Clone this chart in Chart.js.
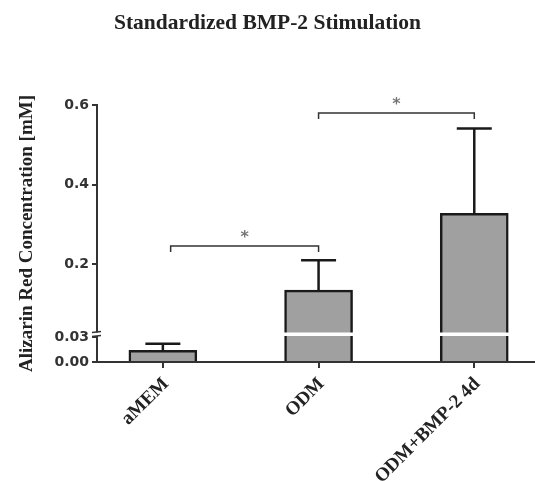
<!DOCTYPE html>
<html>
  <head>
    <meta charset="utf-8" />
    <title>Standardized BMP-2 Stimulation</title>
    <script src="https://cdn.jsdelivr.net/npm/chart.js"></script>
    <style>
      html, body { margin: 0; padding: 0; background: #fff; }
      #wrap { position: relative; width: 535px; height: 481px; }
    </style>
  </head>
  <body>
    <div id="wrap"><canvas id="bmpChart"></canvas></div>
    <script type="text/javascript">
        // values
        var categories = ['aMEM', 'ODM', 'ODM+BMP-2 4d']
        var means = [0.014, 0.135, 0.328]
        var sds = [0.008, 0.075, 0.213]
        var yTicks = [0, 0.03, 0.2, 0.4, 0.6]
        var yTickLabels = ['0.00', '0.03', '0.2', '0.4', '0.6']
        var axisBreak = 0.03
        // significance brackets: from / to (category index) and height (mM)
        var bracketFrom = [0.05, 1]
        var bracketTo = [1, 2]
        var bracketY = [0.246, 0.58]
        var bracketText = ['*', '*']

        // look of the broken axis
        var lowerShare = 25 / 257
        var breakGap = 5

        // linear scale with a gap: 0..axisBreak at the bottom, axisBreak..max above
        class BrokenScale extends Chart.LinearScale {
            getPixelForValue(value) {
                var h = this.bottom - this.top
                var lowH = h * lowerShare
                if (value <= axisBreak) {
                    return this.bottom - (value - this.min) / (axisBreak - this.min) * lowH
                }
                var upH = h - lowH - breakGap
                return this.bottom - lowH - breakGap - (value - axisBreak) / (this.max - axisBreak) * upH
            }
            getValueForPixel(pixel) {
                var h = this.bottom - this.top
                var lowH = h * lowerShare
                var upH = h - lowH - breakGap
                if (pixel >= this.bottom - lowH) {
                    return this.min + (this.bottom - pixel) / lowH * (axisBreak - this.min)
                }
                return axisBreak + (this.bottom - lowH - breakGap - pixel) / upH * (this.max - axisBreak)
            }
        }
        BrokenScale.id = 'broken'
        BrokenScale.defaults = Chart.LinearScale.defaults
        Chart.register(BrokenScale)

        var extras = {
            id: 'extras',
            afterDatasetsDraw: function(chart) {
                var ctx = chart.ctx
                var x = chart.scales.x
                var y = chart.scales.y
                var area = chart.chartArea
                ctx.save()

                // error bars (upper half only)
                ctx.strokeStyle = '#1a1a1a'
                ctx.lineWidth = 2.5
                for (var i = 0; i < categories.length; i++) {
                    var cx = x.getPixelForValue(i)
                    var y0 = y.getPixelForValue(means[i])
                    var y1 = y.getPixelForValue(means[i] + sds[i])
                    ctx.beginPath()
                    ctx.moveTo(cx, y0)
                    ctx.lineTo(cx, y1)
                    ctx.moveTo(cx - 17.5, y1)
                    ctx.lineTo(cx + 17.5, y1)
                    ctx.stroke()
                }

                // white gap across the plot at the axis break
                var yUp = y.getPixelForValue(axisBreak + 1e-9)
                var yLow = y.getPixelForValue(axisBreak)
                ctx.fillStyle = '#ffffff'
                ctx.fillRect(area.left - 1.5, yUp + 0.5, area.right - area.left + 2, yLow - yUp - 1.5)

                // break marks on the y axis
                ctx.strokeStyle = '#333'
                ctx.lineWidth = 1.5
                ctx.beginPath()
                ctx.moveTo(area.left - 5, yUp + 0.5)
                ctx.lineTo(area.left + 4, yUp - 0.5)
                ctx.moveTo(area.left - 5, yLow - 0.5)
                ctx.lineTo(area.left + 4, yLow - 1.5)
                ctx.stroke()

                // significance brackets
                ctx.strokeStyle = '#333'
                ctx.lineWidth = 1.5
                ctx.fillStyle = '#777'
                ctx.font = 'bold 16px "DejaVu Sans"'
                ctx.textAlign = 'center'
                ctx.textBaseline = 'middle'
                for (var j = 0; j < bracketY.length; j++) {
                    var xa = x.getPixelForValue(bracketFrom[j])
                    var xb = x.getPixelForValue(bracketTo[j])
                    var yb = y.getPixelForValue(bracketY[j])
                    ctx.beginPath()
                    ctx.moveTo(xa, yb + 6)
                    ctx.lineTo(xa, yb)
                    ctx.lineTo(xb, yb)
                    ctx.lineTo(xb, yb + 6)
                    ctx.stroke()
                    ctx.fillText(bracketText[j], (xa + xb) / 2, yb - 8)
                }
                ctx.restore()
            }
        }

        var ctx = document.getElementById('bmpChart').getContext('2d')
        new Chart(ctx, {
            type: 'bar',
            data: {
                datasets: [{
                    data: categories.map(function(c, i) { return { x: i, y: means[i] } }),
                    backgroundColor: '#a0a0a0',
                    borderColor: '#1a1a1a',
                    borderWidth: 2.5,
                    borderSkipped: 'start',
                    barThickness: 68,
                }]
            },
            options: {
                responsive: true,
                maintainAspectRatio: false,
                animation: false,
                layout: { padding: 0 },
                plugins: {
                    legend: { display: false },
                    tooltip: { enabled: false },
                    title: {
                        display: true,
                        text: 'Standardized BMP-2 Stimulation',
                        color: '#222',
                        font: { family: '"Liberation Serif"', size: 21.5, weight: 'bold', lineHeight: 1.2 },
                        padding: { top: 11, bottom: 68.2 },
                    },
                },
                scales: {
                    x: {
                        type: 'linear',
                        offset: false,
                        min: -0.423,
                        max: 2.39,
                        afterBuildTicks: function(scale) {
                            scale.ticks = categories.map(function(c, i) { return { value: i } })
                        },
                        afterFit: function(scale) {
                            scale.height = 119
                            scale.paddingLeft = 0
                            scale.paddingRight = 0
                        },
                        ticks: {
                            callback: function(v) { return categories[v] },
                            minRotation: 45,
                            maxRotation: 45,
                            padding: 5,
                            labelOffset: 3,
                            color: '#222',
                            font: { family: '"Liberation Serif"', size: 19, weight: 'bold' },
                        },
                        grid: { offset: false, drawOnChartArea: false, tickLength: 6, color: '#333', lineWidth: 2 },
                        border: { display: true, color: '#333', width: 2 },
                    },
                    y: {
                        type: 'broken',
                        min: 0,
                        max: 0.6,
                        afterBuildTicks: function(scale) {
                            scale.ticks = yTicks.map(function(v) { return { value: v } })
                        },
                        afterFit: function(scale) {
                            scale.width = 97
                        },
                        ticks: {
                            callback: function(v) { return yTickLabels[yTicks.indexOf(v)] },
                            padding: 3,
                            color: '#333',
                            font: { family: '"DejaVu Sans"', size: 14, weight: 'bold' },
                        },
                        grid: { drawOnChartArea: false, tickLength: 5, color: '#333', lineWidth: 2 },
                        border: { display: true, color: '#333', width: 2 },
                        title: {
                            display: true,
                            text: 'Alizarin Red Concentration [mM]',
                            color: '#222',
                            font: { family: '"Liberation Serif"', size: 19, weight: 'bold', lineHeight: 1.2 },
                            padding: { top: 15.6, bottom: 0 },
                        },
                    },
                },
            },
            plugins: [extras],
        })
    </script>
  </body>
</html>
